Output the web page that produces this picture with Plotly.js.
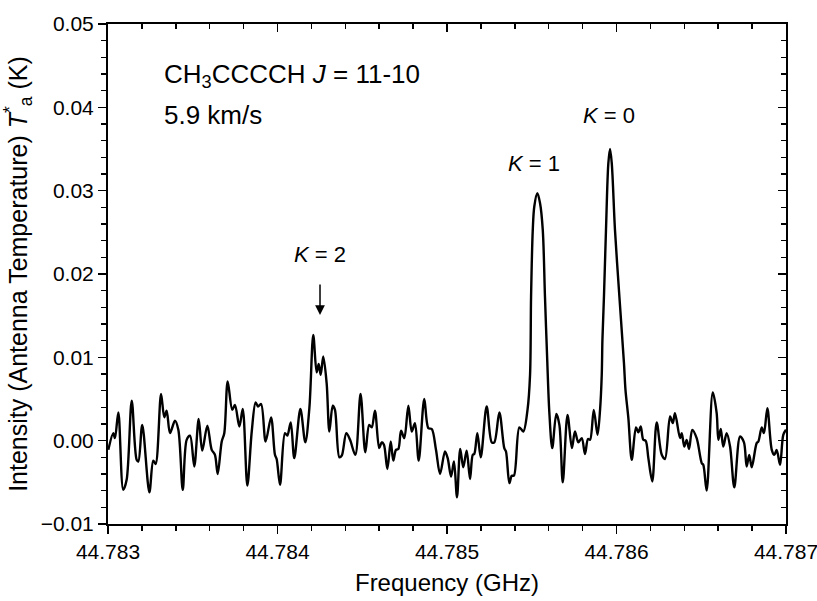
<!DOCTYPE html>
<html>
<head>
<meta charset="utf-8">
<script src="https://cdn.plot.ly/plotly-3.0.1.min.js"></script>
<style>
html,body{margin:0;padding:0;background:#fff;}
#chart{width:817px;height:601px;}
</style>
</head>
<body>
<div id="chart"></div>
<script>
// Frequency (GHz)
var freq = [
44.783002,44.783031,44.783041,44.783061,44.783090,44.783110,44.783140,44.783169,44.783179,44.783202,
44.783244,44.783267,44.783281,44.783313,44.783332,44.783346,44.783366,44.783395,44.783415,44.783441,
44.783464,44.783484,44.783509,44.783535,44.783556,44.783586,44.783612,44.783631,44.783647,44.783671,
44.783686,44.783706,44.783733,44.783749,44.783775,44.783795,44.783822,44.783848,44.783871,44.783885,
44.783903,44.783930,44.783962,44.783985,44.783995,44.784015,44.784044,44.784058,44.784078,44.784099,
44.784135,44.784164,44.784188,44.784211,44.784231,44.784243,44.784255,44.784270,44.784290,44.784306,
44.784326,44.784339,44.784365,44.784379,44.784406,44.784428,44.784459,44.784490,44.784518,44.784541,
44.784556,44.784575,44.784600,44.784615,44.784628,44.784648,44.784668,44.784683,44.784699,44.784713,
44.784729,44.784748,44.784772,44.784792,44.784811,44.784833,44.784866,44.784890,44.784910,44.784935,
44.784959,44.784988,44.785004,44.785024,44.785041,44.785059,44.785078,44.785096,44.785116,44.785136,
44.785152,44.785161,44.785179,44.785199,44.785234,44.785264,44.785279,44.785309,44.785338,44.785348,
44.785368,44.785382,44.785395,44.785427,44.785450,44.785475,44.785490,44.785496,44.785506,44.785515,
44.785533,44.785549,44.785565,44.785578,44.785592,44.785604,44.785621,44.785645,44.785663,44.785683,
44.785711,44.785737,44.785755,44.785775,44.785795,44.785814,44.785832,44.785844,44.785866,44.785888,
44.785903,44.785913,44.785917,44.785926,44.785938,44.785952,44.785962,44.785972,44.785991,44.786017,
44.786044,44.786053,44.786070,44.786090,44.786115,44.786129,44.786143,44.786158,44.786172,44.786188,
44.786211,44.786237,44.786267,44.786286,44.786316,44.786332,44.786345,44.786375,44.786385,44.786400,
44.786414,44.786428,44.786447,44.786473,44.786503,44.786512,44.786532,44.786568,44.786591,44.786601,
44.786615,44.786630,44.786650,44.786670,44.786695,44.786729,44.786752,44.786768,44.786783,44.786798,
44.786827,44.786837,44.786857,44.786870,44.786890,44.786916,44.786931,44.786945,44.786965,44.786984,
44.787000
];
// Antenna temperature Ta* (K)
var intensity = [
-0.0011,0.0009,0.0003,0.0034,-0.0059,-0.0047,0.0048,-0.0023,-0.0025,0.0019,
-0.0062,-0.0024,-0.0028,0.0056,0.0028,0.0036,0.0009,0.0024,0.0013,-0.0059,
0.0001,0.0006,-0.0031,0.0026,-0.0012,0.0018,-0.0011,-0.0017,-0.0040,-0.0001,
0.0009,0.0071,0.0037,0.0043,0.0017,0.0038,-0.0054,0.0011,0.0046,0.0041,
0.0044,-0.0001,0.0028,-0.0017,-0.0022,-0.0053,0.0009,0.0006,0.0022,-0.0021,
0.0038,-0.0002,0.0039,0.0127,0.0082,0.0092,0.0079,0.0101,0.0069,0.0011,
0.0042,0.0037,-0.0020,-0.0018,0.0009,0.0001,-0.0017,0.0056,-0.0014,0.0019,
0.0016,0.0036,-0.0009,-0.0002,-0.0005,-0.0034,-0.0001,-0.0024,-0.0011,-0.0010,
0.0012,0.0003,0.0042,0.0011,0.0021,-0.0024,0.0050,0.0015,0.0014,-0.0011,
-0.0040,-0.0013,-0.0021,-0.0043,-0.0025,-0.0068,-0.0010,-0.0032,-0.0012,-0.0046,
-0.0017,-0.0016,0.0009,-0.0020,0.0041,-0.0002,-0.0002,0.0034,-0.0009,-0.0013,
-0.0051,-0.0042,-0.0042,0.0016,0.0011,0.0037,0.0079,0.0173,0.0253,0.0281,
0.0297,0.0285,0.0253,0.0173,0.0093,0.0033,-0.0009,0.0032,0.0019,-0.0050,
0.0031,-0.0009,0.0011,-0.0002,0.0003,-0.0016,0.0002,0.0001,0.0037,0.0007,
0.0037,0.0079,0.0121,0.0173,0.0253,0.0333,0.0350,0.0333,0.0253,0.0173,
0.0093,0.0061,0.0027,-0.0023,0.0016,0.0010,0.0017,0.0001,0.0000,-0.0021,
-0.0049,0.0022,-0.0017,-0.0022,0.0029,0.0021,0.0033,0.0003,0.0009,-0.0007,
0.0001,-0.0010,0.0013,0.0003,-0.0027,-0.0029,-0.0060,0.0058,0.0033,0.0001,
0.0014,-0.0007,0.0009,-0.0007,-0.0056,0.0005,-0.0002,-0.0031,-0.0017,-0.0032,
-0.0003,-0.0001,0.0016,0.0009,0.0039,-0.0011,-0.0017,-0.0011,-0.0029,0.0007,
0.0013
];
var xTickVals = [44.783, 44.784, 44.785, 44.786, 44.787];
var xTickText = ['44.783', '44.784', '44.785', '44.786', '44.787'];
var yTickVals = [-0.01, 0.00, 0.01, 0.02, 0.03, 0.04, 0.05];
var yTickText = ['\u22120.01', '0.00', '0.01', '0.02', '0.03', '0.04', '0.05'];
var xRange = [44.783, 44.78700001];
var yRange = [-0.01, 0.0500001];
var xTitle = 'Frequency (GHz)';
var yTitle = 'Intensity (Antenna Temperature) <i>T</i><sup>*</sup><sub>a</sub> (K)';
var moleculeLabel = 'CH<sub>3</sub>CCCCH <i>J</i> = 11-10';
var velocityLabel = '5.9 km/s';
var kLabels = ['<i>K</i> = 0', '<i>K</i> = 1', '<i>K</i> = 2'];

var FONT = 'Liberation Sans, Arial, sans-serif';

var traces = [
  {x: freq, y: intensity, type: 'scatter', mode: 'lines',
   line: {color: '#000', width: 2.4, shape: 'spline', smoothing: 0.9},
   hoverinfo: 'skip', showlegend: false},
  {x: freq, y: intensity, type: 'scatter', mode: 'lines', xaxis: 'x2', yaxis: 'y2',
   line: {color: 'rgba(0,0,0,0)', width: 0}, hoverinfo: 'skip', showlegend: false}
];

var axBase = {showgrid: false, zeroline: false, showline: true, linecolor: '#000', linewidth: 2,
  tickcolor: '#000', tickwidth: 1.5, ticklen: 8, ticklabeloverflow: 'allow',
  tickfont: {family: FONT, size: 21, color: '#000'}};

function ax(extra) { return Object.assign({}, axBase, extra); }

var layout = {
  width: 817, height: 601,
  margin: {l: 108, r: 31, t: 24, b: 77},
  paper_bgcolor: '#fff', plot_bgcolor: '#fff',
  font: {family: FONT, color: '#000'},
  showlegend: false,
  xaxis: ax({range: xRange, tickmode: 'array', tickvals: xTickVals, ticktext: xTickText, ticks: 'outside',
    minor: {dtick: 0.0002, tick0: 44.783, ticks: 'outside', ticklen: 5, tickwidth: 1.5, tickcolor: '#000'},
    title: {text: xTitle, font: {family: FONT, size: 24, color: '#000'}, standoff: 12}}),
  yaxis: ax({range: yRange, tickmode: 'array', tickvals: yTickVals, ticktext: yTickText, ticks: 'outside',
    minor: {dtick: 0.002, tick0: -0.01, ticks: 'outside', ticklen: 5, tickwidth: 1.5, tickcolor: '#000'},
    title: {text: yTitle, font: {family: FONT, size: 25, color: '#000'}, standoff: 12}}),
  xaxis2: ax({range: xRange, overlaying: 'x', side: 'top', anchor: 'y2', tickmode: 'array', tickvals: xTickVals,
    ticks: 'inside', showticklabels: false,
    minor: {dtick: 0.0002, tick0: 44.783, ticks: 'inside', ticklen: 5, tickwidth: 1.5, tickcolor: '#000'}}),
  yaxis2: ax({range: yRange, overlaying: 'y', side: 'right', anchor: 'x2', tickmode: 'array', tickvals: yTickVals,
    ticks: 'inside', showticklabels: false,
    minor: {dtick: 0.002, tick0: -0.01, ticks: 'inside', ticklen: 5, tickwidth: 1.5, tickcolor: '#000'}}),
  annotations: [
    {xref: 'paper', yref: 'paper', x: 0.0796, y: 0.898, xanchor: 'left', yanchor: 'middle',
     text: moleculeLabel, showarrow: false, font: {family: FONT, size: 26, color: '#000'}},
    {xref: 'paper', yref: 'paper', x: 0.0796, y: 0.818, xanchor: 'left', yanchor: 'middle',
     text: velocityLabel, showarrow: false, font: {family: FONT, size: 26, color: '#000'}},
    {xref: 'paper', yref: 'paper', x: 0.739, y: 0.818, xanchor: 'center', yanchor: 'middle',
     text: kLabels[0], showarrow: false, font: {family: FONT, size: 22, color: '#000'}},
    {xref: 'paper', yref: 'paper', x: 0.628, y: 0.722, xanchor: 'center', yanchor: 'middle',
     text: kLabels[1], showarrow: false, font: {family: FONT, size: 22, color: '#000'}},
    {xref: 'paper', yref: 'paper', x: 0.3127, y: 0.538, xanchor: 'center', yanchor: 'middle',
     text: kLabels[2], showarrow: false, font: {family: FONT, size: 22, color: '#000'}},
    {xref: 'paper', yref: 'paper', x: 0.3127, y: 0.418, text: '', showarrow: true,
     ax: 0, ay: -32, arrowhead: 2, arrowsize: 1.3, arrowwidth: 1.5, arrowcolor: '#000'}
  ]
};

Plotly.newPlot('chart', traces, layout, {staticPlot: true, displayModeBar: false});
</script>
</body>
</html>
